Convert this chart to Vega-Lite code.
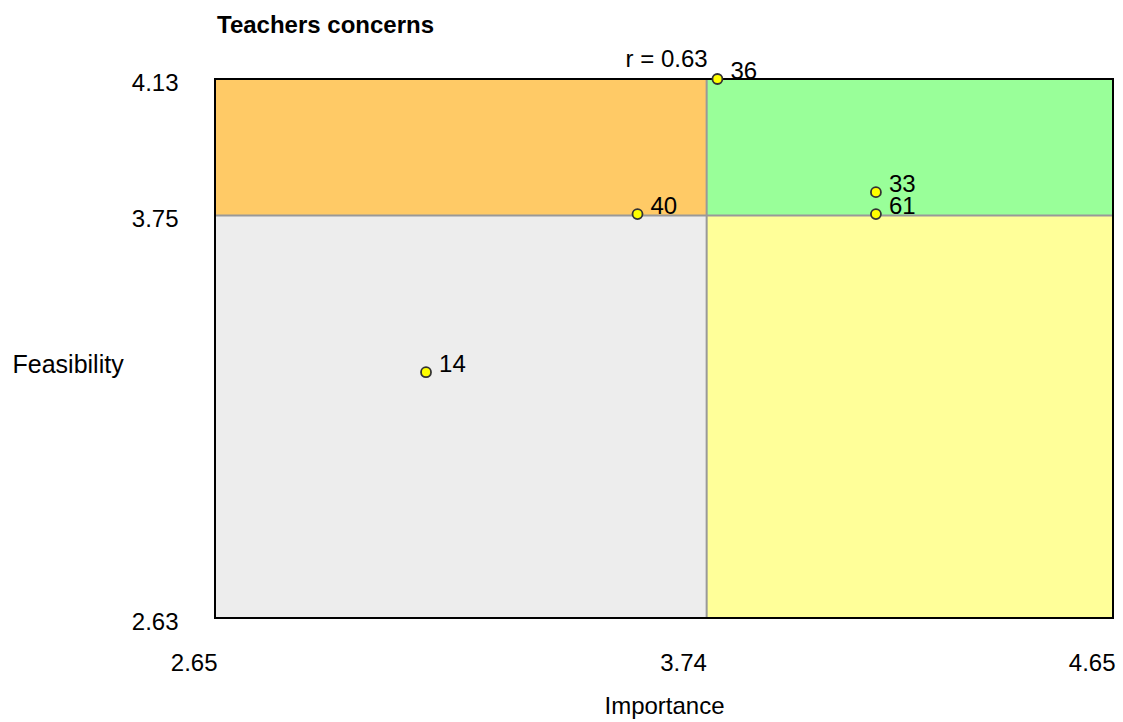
{
  "$schema": "https://vega.github.io/schema/vega-lite/v6.json",
  "width": 898,
  "height": 539,
  "autosize": {"type": "none"},
  "padding": {"left": 215, "top": 79, "right": 10, "bottom": 104},
  "background": "white",
  "config": {
    "view": {"stroke": null},
    "font": "Liberation Sans",
    "text": {"font": "Liberation Sans"}
  },
  "title": {
    "text": "Teachers concerns",
    "anchor": "start",
    "frame": "group",
    "font": "Liberation Sans",
    "fontSize": 24,
    "fontWeight": "bold",
    "color": "#000000",
    "baseline": "alphabetic",
    "offset": -9,
    "dx": 2
  },
  "datasets": {
    "quadrants": [
      {"q": "low-low", "x1": 2.65, "x2": 3.745, "y1": 2.63, "y2": 3.75},
      {"q": "low-high", "x1": 2.65, "x2": 3.745, "y1": 3.75, "y2": 4.13},
      {"q": "high-high", "x1": 3.745, "x2": 4.65, "y1": 3.75, "y2": 4.13},
      {"q": "high-low", "x1": 3.745, "x2": 4.65, "y1": 2.63, "y2": 3.75}
    ],
    "dividers": [
      {"x1": 3.745, "x2": 3.745, "y1": 2.63, "y2": 4.13},
      {"x1": 2.65, "x2": 4.65, "y1": 3.75, "y2": 3.75}
    ],
    "frame": [
      {"x1": 2.65, "x2": 4.65, "y1": 2.63, "y2": 4.13}
    ],
    "concerns": [
      {"id": "36", "importance": 3.769, "feasibility": 4.13},
      {"id": "33", "importance": 4.122, "feasibility": 3.815},
      {"id": "61", "importance": 4.122, "feasibility": 3.754},
      {"id": "40", "importance": 3.591, "feasibility": 3.754},
      {"id": "14", "importance": 3.12, "feasibility": 3.314}
    ],
    "annotation": [
      {"label": "r = 0.63", "x": 3.745, "y": 4.13}
    ]
  },
  "layer": [
    {
      "data": {"name": "quadrants"},
      "mark": {"type": "rect", "strokeWidth": 0},
      "encoding": {
        "x": {
          "field": "x1",
          "type": "quantitative",
          "scale": {"domain": [2.65, 4.65], "nice": false, "zero": false},
          "axis": {
            "values": [2.65, 3.74, 4.65],
            "format": ".2f",
            "ticks": false,
            "domain": false,
            "grid": false,
            "labelAlign": "right",
            "labelBaseline": "alphabetic",
            "labelPadding": 52,
            "labelOffset": 2,
            "labelFontSize": 24,
            "labelColor": "#000000",
            "labelFont": "Liberation Sans",
            "labelFlush": false,
            "labelOverlap": false,
            "labelBound": false,
            "title": "Importance",
            "titleFont": "Liberation Sans",
            "titleFontSize": 24,
            "titleFontWeight": "normal",
            "titleColor": "#000000",
            "titleAlign": "center",
            "titleBaseline": "alphabetic",
            "titleX": 449,
            "titleY": 95
          }
        },
        "x2": {"field": "x2"},
        "y": {
          "field": "y1",
          "type": "quantitative",
          "scale": {"domain": [2.63, 4.13], "nice": false, "zero": false},
          "axis": {
            "values": [2.63, 3.75, 4.13],
            "format": ".2f",
            "ticks": false,
            "domain": false,
            "grid": false,
            "labelAlign": "right",
            "labelBaseline": "middle",
            "labelPadding": 37,
            "labelOffset": 4,
            "labelFontSize": 24,
            "labelColor": "#000000",
            "labelFont": "Liberation Sans",
            "labelFlush": false,
            "labelOverlap": false,
            "labelBound": false,
            "title": "Feasibility",
            "titleFont": "Liberation Sans",
            "titleFontSize": 25,
            "titleFontWeight": "normal",
            "titleColor": "#000000",
            "titleAngle": 0,
            "titleAlign": "left",
            "titleBaseline": "alphabetic",
            "titleX": -203,
            "titleY": 293
          }
        },
        "y2": {"field": "y2"},
        "color": {
          "field": "q",
          "type": "nominal",
          "scale": {
            "domain": ["low-low", "low-high", "high-high", "high-low"],
            "range": ["#EDEDED", "#FFCA66", "#99FF99", "#FFFF99"]
          },
          "legend": null
        }
      }
    },
    {
      "data": {"name": "dividers"},
      "mark": {"type": "rule", "color": "#999999", "strokeWidth": 2},
      "encoding": {
        "x": {"field": "x1", "type": "quantitative"},
        "x2": {"field": "x2"},
        "y": {"field": "y1", "type": "quantitative"},
        "y2": {"field": "y2"}
      }
    },
    {
      "data": {"name": "frame"},
      "mark": {"type": "rect", "fill": null, "fillOpacity": 0, "stroke": "#000000", "strokeWidth": 2},
      "encoding": {
        "x": {"field": "x1", "type": "quantitative"},
        "x2": {"field": "x2"},
        "y": {"field": "y1", "type": "quantitative"},
        "y2": {"field": "y2"}
      }
    },
    {
      "data": {"name": "concerns"},
      "mark": {"type": "point", "filled": true, "shape": "circle", "size": 100, "fill": "#FFFF00", "stroke": "#333333", "strokeWidth": 1.8, "opacity": 1},
      "encoding": {
        "x": {"field": "importance", "type": "quantitative"},
        "y": {"field": "feasibility", "type": "quantitative"}
      }
    },
    {
      "data": {"name": "concerns"},
      "mark": {"type": "text", "align": "left", "baseline": "alphabetic", "dx": 13, "dy": 0, "fontSize": 24, "color": "#000000"},
      "encoding": {
        "x": {"field": "importance", "type": "quantitative"},
        "y": {"field": "feasibility", "type": "quantitative"},
        "text": {"field": "id"}
      }
    },
    {
      "data": {"name": "annotation"},
      "mark": {"type": "text", "align": "right", "baseline": "alphabetic", "dx": 1, "dy": -12, "fontSize": 24, "color": "#000000"},
      "encoding": {
        "x": {"field": "x", "type": "quantitative"},
        "y": {"field": "y", "type": "quantitative"},
        "text": {"field": "label"}
      }
    }
  ]
}
